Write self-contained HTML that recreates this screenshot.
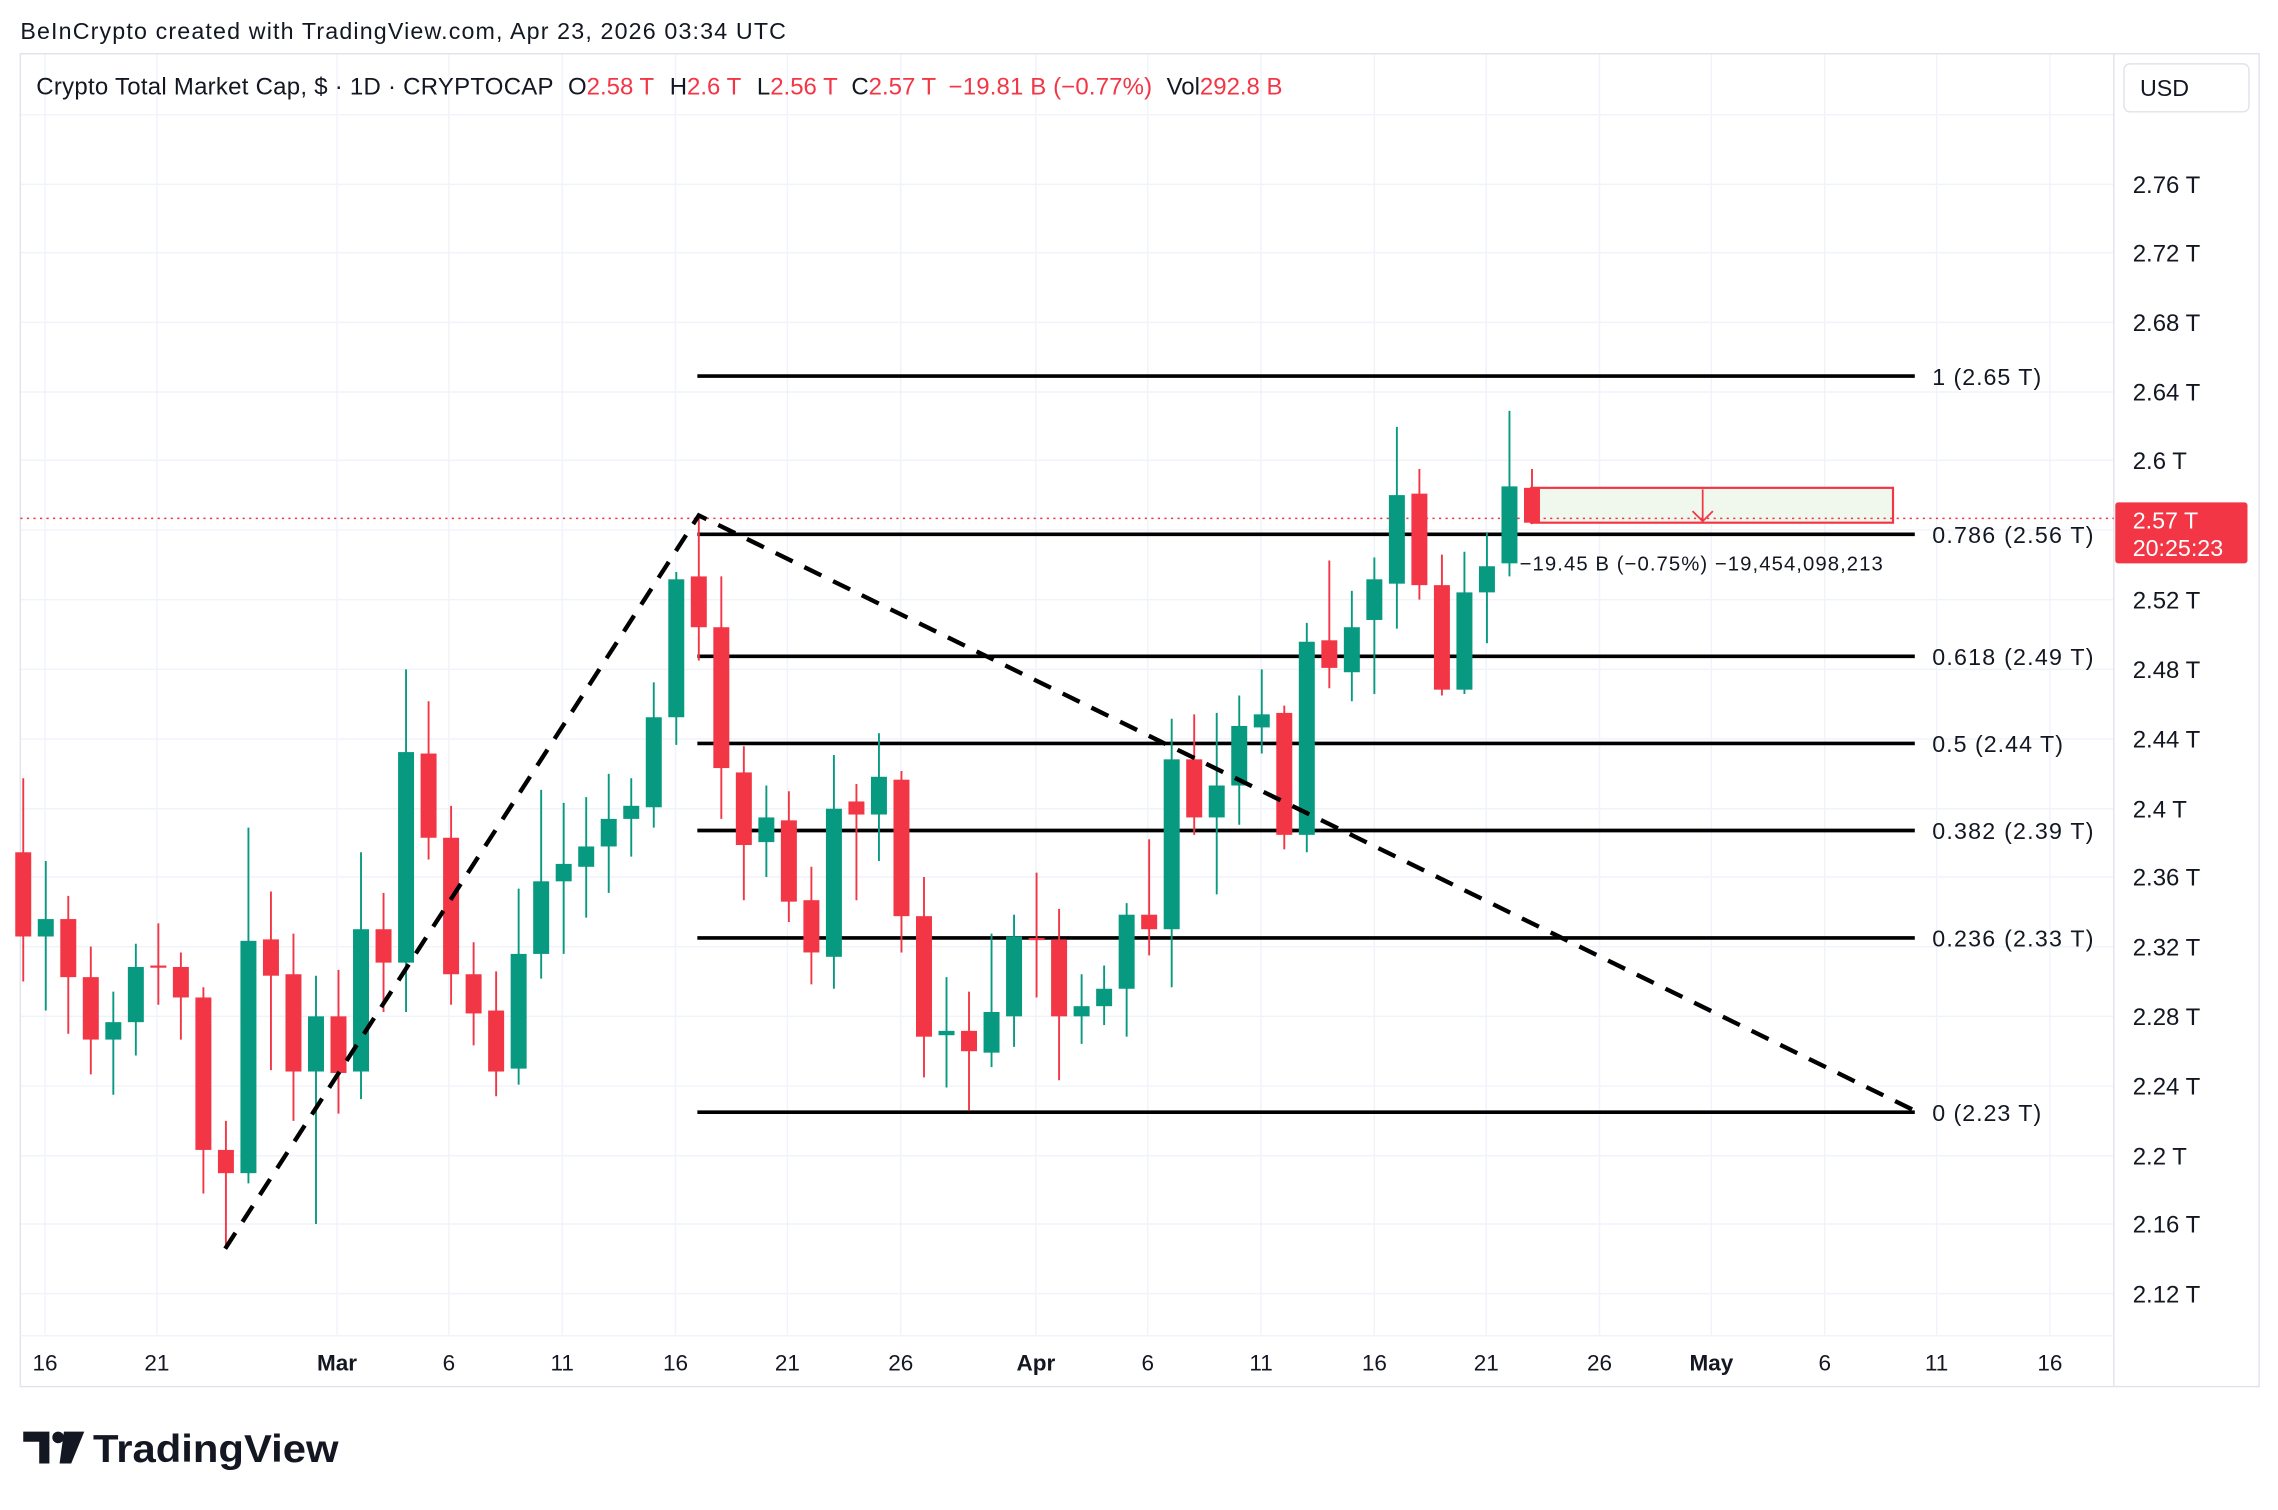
<!DOCTYPE html>
<html><head><meta charset="utf-8"><style>
html,body{margin:0;padding:0;background:#fff;}
svg{display:block;font-family:"Liberation Sans",sans-serif;}
</style></head><body>
<svg id="s" width="2278" height="1510" viewBox="0 0 1568 1040" preserveAspectRatio="none" xmlns="http://www.w3.org/2000/svg">
<rect width="1568" height="1040" fill="#fff"/>
<g id="grid" stroke="#f0f3fa" stroke-width="1"></g>
<rect x="14" y="37" width="1541" height="918" fill="none" stroke="#e0e3eb" stroke-width="1"/>
<line x1="1455" y1="37" x2="1455" y2="955" stroke="#e0e3eb" stroke-width="1"/>
<line x1="14" y1="920" x2="1455" y2="920" stroke="#f0f3fa" stroke-width="1"/>
<text x="14" y="27" font-size="16" fill="#131722" textLength="527" lengthAdjust="spacing">BeInCrypto created with TradingView.com, Apr 23, 2026 03:34 UTC</text>
<g font-size="16.5" fill="#131722">
<text x="25" y="65" textLength="356" lengthAdjust="spacing">Crypto Total Market Cap, $ · 1D · CRYPTOCAP</text>
<text x="391" y="65">O<tspan fill="#f23645">2.58 T</tspan></text>
<text x="461" y="65">H<tspan fill="#f23645">2.6 T</tspan></text>
<text x="521" y="65">L<tspan fill="#f23645">2.56 T</tspan></text>
<text x="586" y="65">C<tspan fill="#f23645">2.57 T</tspan></text>
<text x="653" y="65" fill="#f23645" textLength="140" lengthAdjust="spacing">−19.81 B (−0.77%)</text>
<text x="803" y="65">Vol<tspan fill="#f23645">292.8 B</tspan></text>
</g>
<rect x="1462" y="44" width="86" height="33" rx="4" fill="#fff" stroke="#e0e3eb"/>
<text x="1473" y="66" font-size="16" fill="#131722">USD</text>
<g id="ylab" font-size="16.5" fill="#131722"></g>
<g id="xlab" font-size="15.5" fill="#131722"></g>
<rect x="1054" y="336" width="249" height="24" fill="#f0f8ee" stroke="#f23645" stroke-width="1.5"/>
<line x1="1172" y1="337" x2="1172" y2="359" stroke="#f23645" stroke-width="1.2"/>
<polyline points="1165,352 1172,359 1179,352" fill="none" stroke="#f23645" stroke-width="1.2"/>
<line x1="14" y1="357" x2="1455" y2="357" stroke="#f23645" stroke-width="1" stroke-dasharray="1.5,3"/>
<g stroke="#000" stroke-width="2.5">
<line x1="480" y1="259" x2="1318" y2="259"/>
<line x1="480" y1="368" x2="1318" y2="368"/>
<line x1="480" y1="452" x2="1318" y2="452"/>
<line x1="480" y1="512" x2="1318" y2="512"/>
<line x1="480" y1="572" x2="1318" y2="572"/>
<line x1="480" y1="646" x2="1318" y2="646"/>
<line x1="480" y1="766" x2="1318" y2="766"/>
</g>
<g font-size="16" fill="#131722" lengthAdjust="spacing">
<text x="1330" y="265" textLength="75">1 (2.65 T)</text>
<text x="1330" y="374" textLength="111">0.786 (2.56 T)</text>
<text x="1330" y="458" textLength="111">0.618 (2.49 T)</text>
<text x="1330" y="518" textLength="90">0.5 (2.44 T)</text>
<text x="1330" y="578" textLength="111">0.382 (2.39 T)</text>
<text x="1330" y="652" textLength="111">0.236 (2.33 T)</text>
<text x="1330" y="772" textLength="75">0 (2.23 T)</text>
</g>
<g id="candles"></g>
<polyline points="155,860 481,355 1318,765" fill="none" stroke="#000" stroke-width="3" stroke-dasharray="13,9"/>
<text x="1046" y="393" font-size="14" fill="#131722" textLength="250" lengthAdjust="spacing">−19.45 B (−0.75%) −19,454,098,213</text>
<rect x="1456" y="346" width="91" height="42" rx="2" fill="#f23645"/>
<text x="1468" y="364" font-size="16" fill="#fff">2.57 T</text>
<text x="1468" y="383" font-size="16" fill="#fff">20:25:23</text>
<g fill="#131722">
<path d="M16 986 H34 V1008 H27 V993 H16 Z"/>
<circle cx="40" cy="990" r="4"/>
<path d="M44 986 H58 L49 1008 H41 Z"/>
</g>
<text x="64" y="1007" font-size="27" font-weight="bold" fill="#131722" textLength="169" lengthAdjust="spacingAndGlyphs">TradingView</text>
</svg>
<script>
var NS="http://www.w3.org/2000/svg";
function el(p,t,a,txt){var e=document.createElementNS(NS,t);for(var k in a)e.setAttribute(k,a[k]);if(txt)e.textContent=txt;p.appendChild(e);return e;}
var g=document.getElementById('grid');
var ys=[79,127,174,222,270,317,365,413,461,509,557,604,652,700,748,796,843,891];
var yl=['2.8 T','2.76 T','2.72 T','2.68 T','2.64 T','2.6 T','','2.52 T','2.48 T','2.44 T','2.4 T','2.36 T','2.32 T','2.28 T','2.24 T','2.2 T','2.16 T','2.12 T'];
var xs=[31,108,232,309,387,465,542,620,713,790,868,946,1023,1101,1178,1256,1333,1411];
var xl=['16','21','Mar','6','11','16','21','26','Apr','6','11','16','21','26','May','6','11','16'];
ys.forEach(function(y){el(g,'line',{x1:14,y1:y,x2:1455,y2:y});});
xs.forEach(function(x){el(g,'line',{x1:x,y1:37,x2:x,y2:920});});
var yg=document.getElementById('ylab');
ys.forEach(function(y,i){if(yl[i]&&i>0)el(yg,'text',{x:1468,y:y+6},yl[i]);});
var xg=document.getElementById('xlab');
xs.forEach(function(x,i){var b=(xl[i]=='Mar'||xl[i]=='Apr'||xl[i]=='May');el(xg,'text',{x:x,y:944,'text-anchor':'middle','font-weight':b?'bold':'normal'},xl[i]);});
var D=[
['r',587,645,536,676],['g',633,645,593,696],['r',633,673,617,712],['r',673,716,652,740],['g',704,716,683,754],
['g',666,704,650,727],['r',665,666,636,692],['r',666,687,656,716],['r',687,792,680,822],['r',792,808,772,860],
['g',648,808,570,815],['r',647,672,614,737],['r',671,738,643,772],['g',700,738,672,843],['r',700,739,668,767],
['g',640,738,587,757],['r',640,663,615,697],['g',518,663,461,697],['r',519,577,483,592],['r',577,671,555,692],
['r',671,698,649,720],['r',696,738,669,755],['g',657,736,612,747],['g',607,657,544,674],['g',595,607,553,657],
['g',583,597,549,632],['g',564,583,533,615],['g',555,564,536,590],['g',494,556,470,570],['g',399,494,394,513],
['r',397,432,357,455],['r',432,529,397,564],['r',532,582,514,620],['g',563,580,541,604],['r',565,621,545,635],
['r',620,656,597,678],['g',557,659,520,681],['r',552,561,540,620],['g',535,561,505,593],['r',537,631,531,656],
['r',631,714,604,742],['g',710,713,673,749],['r',710,724,683,765],['g',697,725,643,735],['g',645,700,630,721],
['r',646,647,601,687],['r',647,700,626,744],['g',693,700,671,719],['g',681,693,665,706],['g',630,681,622,714],
['r',630,640,578,658],['g',523,640,495,680],['r',523,563,492,575],['g',541,563,491,616],['g',500,541,479,568],
['g',492,501,461,519],['r',491,575,486,585],['g',442,575,429,587],['r',441,460,386,474],['g',432,463,407,483],
['g',399,427,384,478],['g',341,402,294,433],['r',340,403,323,413],['r',403,475,382,479],['g',408,475,380,478],
['g',390,408,367,443],['g',335,388,283,397],['r',336,360,323,361]
];
var cg=document.getElementById('candles');
D.forEach(function(c,i){var x=16+i*15.5;var col=c[0]=='g'?'#089981':'#f23645';
el(cg,'line',{x1:x,y1:c[3],x2:x,y2:c[4],stroke:col,'stroke-width':1.3});
el(cg,'rect',{x:x-5.5,y:c[1],width:11,height:Math.max(1.5,c[2]-c[1]),fill:col});});
</script>
</body></html>
